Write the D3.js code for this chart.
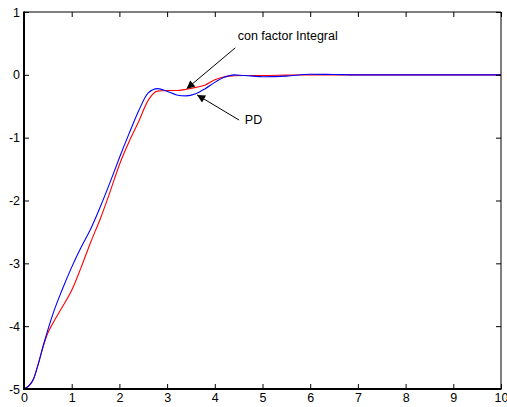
<!DOCTYPE html>
<html>
<head>
<meta charset="utf-8">
<script src="https://cdn.jsdelivr.net/npm/d3@7"></script>
<style>
  html, body { margin: 0; padding: 0; background: #fff; }
  svg { display: block; }
  text { font-family: "Liberation Sans", Arial, sans-serif; }
</style>
</head>
<body>
<svg id="chart" width="507" height="407"></svg>
<script>
// ---- data ----
const time = [0, 0.1, 0.2, 0.3, 0.4, 0.5, 0.6, 0.8, 1.0, 1.2, 1.4, 1.6, 1.8, 2.0, 2.2, 2.4, 2.6, 2.8, 3.0, 3.2, 3.4, 3.6, 3.8, 4.0, 4.2, 4.4, 4.6, 4.8, 5.0, 5.5, 6.0, 6.5, 7, 8, 9, 10];
const pdValues = [-5, -4.95, -4.84, -4.60, -4.32, -4.06, -3.82, -3.42, -3.06, -2.74, -2.45, -2.10, -1.72, -1.32, -0.94, -0.58, -0.29, -0.22, -0.26, -0.32, -0.335, -0.30, -0.22, -0.12, -0.04, 0.0, -0.01, -0.02, -0.03, -0.02, 0.01, 0.005, 0, 0, 0, 0];
const integralValues = [-5, -4.95, -4.84, -4.60, -4.33, -4.11, -3.96, -3.70, -3.43, -3.06, -2.66, -2.29, -1.87, -1.43, -1.07, -0.75, -0.41, -0.26, -0.25, -0.25, -0.23, -0.20, -0.16, -0.08, -0.03, -0.015, -0.01, -0.01, -0.01, -0.005, 0, 0, 0, 0, 0, 0];
const xTicks = [0, 1, 2, 3, 4, 5, 6, 7, 8, 9, 10];
const yTicks = [-5, -4, -3, -2, -1, 0, 1];
const annotations = [
  { label: "con factor Integral", t: 3.41, v: -0.22, textT: 4.48, textV: 0.56, lineT: 4.43, lineV: 0.43 },
  { label: "PD", t: 3.63, v: -0.32, textT: 4.63, textV: -0.79, lineT: 4.51, lineV: -0.72 }
];

// ---- layout ----
const svg = d3.select("#chart");
const mLeft = 24, mRight = 501, mTop = 12, mBottom = 389;
const x = d3.scaleLinear().domain([0, 10]).range([mLeft, mRight]);
const y = d3.scaleLinear().domain([-5, 1]).range([mBottom, mTop]);
const tickLen = 5;
const fmt = d => String(d);

// curves
const line = d3.line().x((d, i) => x(time[i])).y(d => y(d)).curve(d3.curveMonotoneX);
svg.append("path").datum(integralValues).attr("d", line)
  .attr("fill", "none").attr("stroke", "#ff0000").attr("stroke-width", 1.1);
svg.append("path").datum(pdValues).attr("d", line)
  .attr("fill", "none").attr("stroke", "#0000ff").attr("stroke-width", 1.1);

// axes (box with inward ticks)
const gB = svg.append("g").attr("transform", `translate(0,${mBottom})`)
  .call(d3.axisBottom(x).tickValues(xTicks).tickSize(-tickLen).tickPadding(4).tickFormat(fmt));
const gT = svg.append("g").attr("transform", `translate(0,${mTop})`)
  .call(d3.axisTop(x).tickValues(xTicks).tickSize(-tickLen).tickFormat(""));
const gL = svg.append("g").attr("transform", `translate(${mLeft},0)`)
  .call(d3.axisLeft(y).tickValues(yTicks).tickSize(-tickLen).tickPadding(4).tickFormat(fmt));
const gR = svg.append("g").attr("transform", `translate(${mRight},0)`)
  .call(d3.axisRight(y).tickValues(yTicks).tickSize(-tickLen).tickFormat(""));

[gB, gT, gL, gR].forEach(g => {
  g.select(".domain").remove();
  g.selectAll(".tick line").attr("stroke", "#000").attr("stroke-width", 1);
  g.selectAll("text").attr("fill", "#000").style("font-size", "12.5px")
    .style("font-family", '"Liberation Sans", Arial, sans-serif');
});
gB.selectAll("text").attr("dy", "0.71em");

// frame
svg.append("line").attr("x1", mLeft).attr("x2", mRight).attr("y1", mTop).attr("y2", mTop).attr("stroke", "#000").attr("stroke-width", 1);
svg.append("line").attr("x1", mRight).attr("x2", mRight).attr("y1", mTop).attr("y2", mBottom).attr("stroke", "#000").attr("stroke-width", 1);
svg.append("line").attr("x1", mLeft).attr("x2", mLeft).attr("y1", mTop - 0.5).attr("y2", mBottom + 1).attr("stroke", "#000").attr("stroke-width", 2);
svg.append("line").attr("x1", mLeft - 1).attr("x2", mRight + 0.5).attr("y1", mBottom).attr("y2", mBottom).attr("stroke", "#000").attr("stroke-width", 2);

// annotations
const defs = svg.append("defs");
defs.append("marker").attr("id", "arrow").attr("viewBox", "0 0 10 10")
  .attr("refX", 10).attr("refY", 5).attr("markerWidth", 10).attr("markerHeight", 8)
  .attr("markerUnits", "userSpaceOnUse").attr("orient", "auto")
  .append("path").attr("d", "M0,0 L10,5 L0,10 Z").attr("fill", "#000");

annotations.forEach(a => {
  svg.append("line")
    .attr("x1", x(a.lineT)).attr("y1", y(a.lineV))
    .attr("x2", x(a.t)).attr("y2", y(a.v))
    .attr("stroke", "#000").attr("stroke-width", 1).attr("marker-end", "url(#arrow)");
  svg.append("text").attr("x", x(a.textT)).attr("y", y(a.textV))
    .attr("fill", "#000").style("font-size", "12.5px").text(a.label);
});
</script>
</body>
</html>
